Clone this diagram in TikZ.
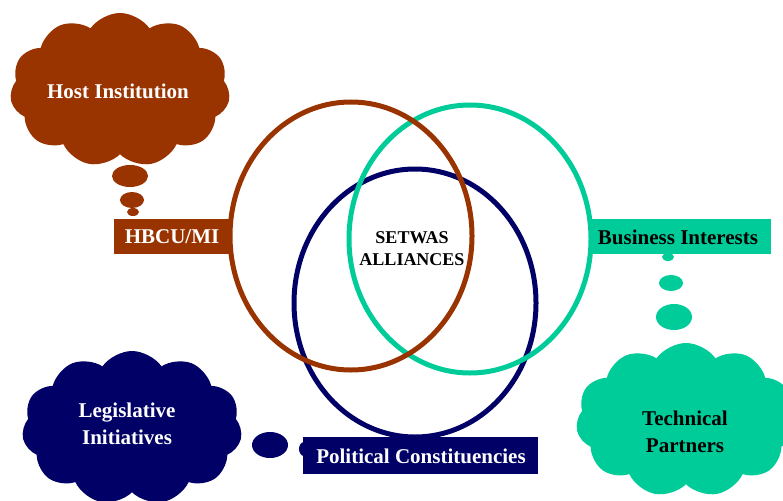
\documentclass[tikz,border=0pt]{standalone}
\usepackage{fontspec}
\setmainfont{Liberation Serif}
\usetikzlibrary{shapes.symbols}

\definecolor{rust}{HTML}{993300}
\definecolor{navy}{HTML}{000066}
\definecolor{sea}{HTML}{00CC99}

\begin{document}
\begin{tikzpicture}[
    x=1pt,y=-1pt,
    ring/.style={line width=5pt},
    tag/.style={rectangle,inner sep=0pt,font=\fontsize{21}{25}\selectfont\bfseries},
    puffy/.style={cloud,cloud puffs=11,cloud puff arc=110,aspect=1.43,inner sep=0pt,
                  minimum width=220pt,minimum height=154pt},
    cloudtext/.style={font=\fontsize{21}{27}\selectfont\bfseries,align=center},
    ]
% SETWAS ALLIANCES
\def\rx{121pt}   % ring x radius
\def\ry{134pt}   % ring y radius
\def\bubble#1#2#3#4{ % thought bubble: colour, centre, x radius, y radius
  \fill[#1] #2 ellipse [x radius=#3pt,y radius=#4pt];
}
    \useasboundingbox (0,0) rectangle (783,500);

    % THOUGHT BUBBLES
    \bubble{rust}{(130,176)}{18}{11}
    \bubble{rust}{(132,200)}{12}{8}
    \bubble{rust}{(133,212)}{6}{4}
    \bubble{sea}{(668,257)}{6}{4}
    \bubble{sea}{(671,283)}{12}{8}
    \bubble{sea}{(674,317)}{18}{13}
    \bubble{navy}{(270,445)}{18}{13}
    \bubble{navy}{(304,449)}{5}{7}

    % CLOUDS
    \node[puffy,fill=rust] (hostcloud) at (120,90) {};
    \node[cloudtext,text=white] (host) at (118,91) {Host Institution};
    \node[puffy,fill=navy] (legiscloud) at (132,428) {};
    \node[cloudtext,text=white] (legis) at (127,424) {Legislative\\Initiatives};
    \node[puffy,fill=sea] (techcloud) at (686,420) {};
    \node[cloudtext,text=black] (tech) at (685,432) {Technical\\Partners};

    % TAGS
    \node[tag,fill=rust,text=white,minimum width=118pt,minimum height=35pt] (hbcu) at (173,236.5) {};
    \node[tag,text=white] at (172,237) {HBCU/MI};
    \node[tag,fill=sea,text=black,minimum width=181pt,minimum height=35pt] (business) at (680.5,236.5) {};
    \node[tag,text=black] at (678,237) {Business Interests};
    \node[tag,fill=navy,text=white,minimum width=235pt,minimum height=37pt] (political) at (420.5,455.5) {};
    \node[tag,text=white] at (421,456) {Political Constituencies};

    % RINGS
    \draw[ring,navy] (415,303) ellipse [x radius=\rx,y radius=\ry];
    \draw[ring,sea] (470,239) ellipse [x radius=\rx,y radius=\ry];
    \draw[ring,rust] (351,236) ellipse [x radius=\rx,y radius=\ry];

    \node[font=\fontsize{18}{22}\selectfont\bfseries,align=center] (setwas) at (412,249) {SETWAS\\ALLIANCES};
\end{tikzpicture}
\end{document}
